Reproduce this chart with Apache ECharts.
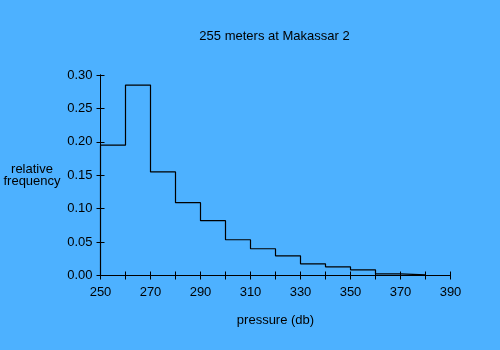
<!DOCTYPE html>
<html>
<head>
<meta charset="utf-8">
<script src="https://cdn.jsdelivr.net/npm/echarts@6/dist/echarts.min.js"></script>
<style>
  html, body { margin: 0; padding: 0; background: #4db1ff; }
  #chart { width: 500px; height: 350px; }
</style>
</head>
<body>
<div id="chart"></div>
<script>
// Histogram of pressure readings: left edge of each 10 db bin and its relative frequency
var binStarts = [250, 260, 270, 280, 290, 300, 310, 320, 330, 340, 350, 360, 370];
var frequencies = [0.195, 0.285, 0.155, 0.109, 0.082, 0.0535, 0.040, 0.0295, 0.0175, 0.013, 0.0085, 0.0025, 0.001];
var binEnd = 380;

var titleText = '255 meters at Makassar 2';
var xName = 'pressure (db)';
var yName = 'relative\nfrequency';

var font = 'Liberation Sans, Arial, sans-serif';
var fontSize = 13;
var ink = '#000';

// Step outline: start at the baseline, walk across each bin, close at the last edge
var outline = [[binStarts[0], 0]];
binStarts.forEach(function (x, i) { outline.push([x, frequencies[i]]); });
outline.push([binEnd, 0]);

var chart = echarts.init(document.getElementById('chart'), null, { renderer: 'canvas' });

var baseX = {
  type: 'value', min: 250, max: 390, interval: 10, position: 'bottom',
  axisLine: { show: true, onZero: false, lineStyle: { color: ink, width: 1 } },
  splitLine: { show: false }
};
var baseY = {
  type: 'value', min: 0, max: 0.3, interval: 0.05, position: 'left',
  axisLine: { show: true, onZero: false, lineStyle: { color: ink, width: 1 } },
  splitLine: { show: false }
};

chart.setOption({
  backgroundColor: '#4db1ff',
  animation: false,
  grid: { left: 100.5, right: 49.5, top: 75, bottom: 74.5 },
  xAxis: [
    Object.assign({}, baseX, {
      axisTick: { show: true, length: 4, lineStyle: { color: ink } },
      axisLabel: {
        margin: 10, color: ink, fontFamily: font, fontSize: fontSize,
        formatter: function (v) { return (v - 250) % 20 === 0 ? String(v) : ''; }
      }
    }),
    Object.assign({}, baseX, {
      axisTick: { show: true, inside: true, length: 4, lineStyle: { color: ink } },
      axisLabel: { show: false }
    })
  ],
  yAxis: [
    Object.assign({}, baseY, {
      axisTick: { show: true, length: 4, lineStyle: { color: ink } },
      axisLabel: {
        margin: 8, color: ink, fontFamily: font, fontSize: fontSize,
        formatter: function (v) { return v.toFixed(2); }
      }
    }),
    Object.assign({}, baseY, {
      axisTick: { show: true, inside: true, length: 4, lineStyle: { color: ink } },
      axisLabel: { show: false }
    })
  ],
  graphic: [
    {
      type: 'text',
      style: {
        text: titleText, x: 274.5, y: 30, textAlign: 'center',
        font: fontSize + 'px ' + font, fill: ink
      }
    },
    {
      type: 'text',
      style: {
        text: yName, x: 32, y: 163, textAlign: 'center',
        font: fontSize + 'px ' + font, fill: ink, lineHeight: 12
      }
    },
    {
      type: 'text',
      style: {
        text: xName, x: 275.5, y: 314, textAlign: 'center',
        font: fontSize + 'px ' + font, fill: ink
      }
    }
  ],
  series: [{
    type: 'line', step: 'end', data: outline,
    xAxisIndex: 0, yAxisIndex: 0,
    symbol: 'none',
    lineStyle: { color: ink, width: 1.2 }
  }]
});
</script>
</body>
</html>
